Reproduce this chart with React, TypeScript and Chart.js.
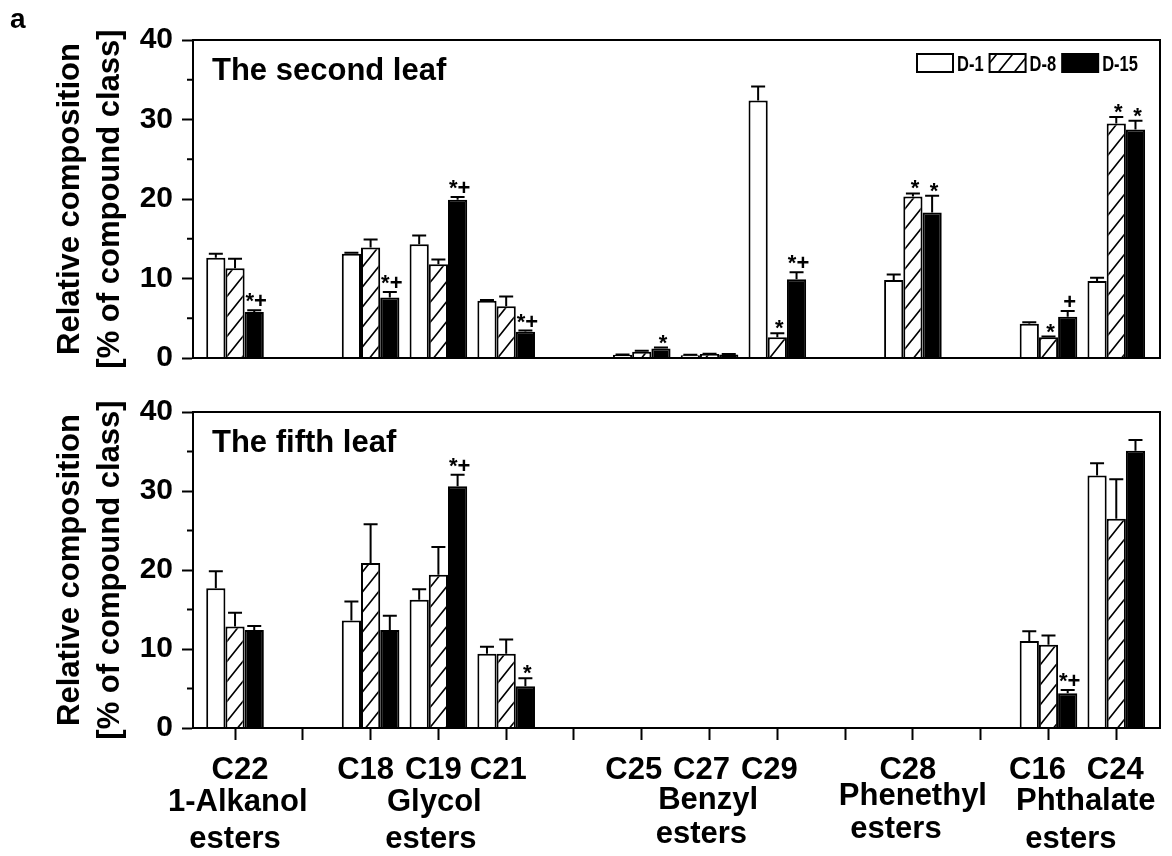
import React, { useEffect, useRef } from 'react';
import { Chart, registerables } from 'chart.js';

Chart.register(...registerables);

// ---------- data ----------
const categoryLabels = ['C22', '', 'C18', 'C19', 'C21', '', 'C25', 'C27', 'C29', '', 'C28', '', 'C16', 'C24'];
const seriesNames = ['D-1', 'D-8', 'D-15'];
const groupNames = ['1-Alkanol', 'Glycol', 'Benzyl', 'Phenethyl', 'Phthalate'];
const groupSuffix = 'esters';
const panelTitles = ['The second leaf', 'The fifth leaf'];
const panelLetter = 'a';
const yTitle = ['Relative composition', '[% of compound class]'];

// The second leaf
const secondD1 = [12.6, null, 13.1, 14.3, 7.2, null, 0.4, 0.35, 32.4, null, 9.8, null, 4.3, 9.7];
const secondD1Err = [0.5, null, 0.15, 1.1, 0.1, null, 0.05, 0.05, 1.75, null, 0.7, null, 0.2, 0.4];
const secondD8 = [11.3, null, 13.9, 11.8, 6.5, null, 0.8, 0.5, 2.6, null, 20.3, null, 2.6, 29.5];
const secondD8Err = [1.2, null, 1.0, 0.6, 1.25, null, 0.1, 0.05, 0.5, null, 0.4, null, 0.1, 0.8];
const secondD15 = [5.8, null, 7.6, 19.9, 3.3, null, 1.2, 0.45, 9.9, null, 18.3, null, 5.2, 28.75];
const secondD15Err = [0.2, null, 0.7, 0.35, 0.15, null, 0.12, 0.05, 0.9, null, 2.1, null, 0.7, 1.1];
const secondSig1 = ['', '', '', '', '', '', '', '', '', '', '', '', '', ''];
const secondSig8 = ['', '', '', '', '', '', '', '', '*', '', '*', '', '*', '*'];
const secondSig15 = ['*+', '', '*+', '*+', '*+', '', '*', '', '*+', '', '*', '', '+', '*'];

// The fifth leaf
const fifthD1 = [17.7, null, 13.6, 16.25, 9.4, null, null, null, null, null, null, null, 11.0, 31.95];
const fifthD1Err = [2.15, null, 2.4, 1.3, 0.9, null, null, null, null, null, null, null, 1.25, 1.55];
const fifthD8 = [12.85, null, 20.9, 19.4, 9.4, null, null, null, null, null, null, null, 10.55, 26.5];
const fifthD8Err = [1.75, null, 4.9, 3.5, 1.8, null, null, null, null, null, null, null, 1.15, 5.0];
const fifthD15 = [12.4, null, 12.4, 30.6, 5.3, null, null, null, null, null, null, null, 4.4, 35.1];
const fifthD15Err = [0.5, null, 1.8, 1.45, 1.0, null, null, null, null, null, null, null, 0.4, 1.35];
const fifthSig1 = ['', '', '', '', '', '', '', '', '', '', '', '', '', ''];
const fifthSig8 = ['', '', '', '', '', '', '', '', '', '', '', '', '', ''];
const fifthSig15 = ['', '', '', '*+', '*', '', '', '', '', '', '', '', '*+', ''];

// ---------- layout / style ----------
const FONT = "'Liberation Sans', Arial, Helvetica, sans-serif";
const W = 1172;
const TOP_H = 385;
const BOT_H = 471;
const X_MIN = -0.62;
const X_MAX = 13.645;
const GROUP_AT = [0.04, 2.94, 6.98, 10.0, 12.55];
const ESTERS_AT = [0.0, 2.89, 6.88, 9.75, 12.33];
const GROUP_BASE = [811, 811, 809, 805, 810];
const ESTERS_BASE = [848, 848, 843, 838, 848];
const C_LABEL_BASE = 779;
const C_LABEL_SHIFT = [5, 0, -5, -5, -8, 0, -8, -8, -8, 0, -5, 0, -11, -1];

function makeHatch(): CanvasPattern | string {
  const c = document.createElement('canvas');
  c.width = 16;
  c.height = 20;
  const g = c.getContext('2d');
  if (!g) return '#fff';
  g.fillStyle = '#fff';
  g.fillRect(0, 0, 16, 20);
  g.strokeStyle = '#000';
  g.lineWidth = 1.7;
  g.beginPath();
  for (const off of [-16, 0, 16]) {
    g.moveTo(off - 2, 22.5);
    g.lineTo(off + 18, -2.5);
  }
  g.stroke();
  return g.createPattern(c, 'repeat') || '#fff';
}

type Pt = { x: number; y: number; err: number | null; sig: string };

function toPoints(vals: (number | null)[], errs: (number | null)[], sigs: string[]): Pt[] {
  const out: Pt[] = [];
  vals.forEach((v, i) => {
    if (v == null) return;
    out.push({ x: i, y: v, err: errs[i], sig: sigs[i] });
  });
  return out;
}

function panelPlugin(kind: 'top' | 'bottom', fills: any[]) {
  const offsetY = kind === 'top' ? 0 : TOP_H;
  return {
    id: 'panelDecor' + kind,
    afterDatasetsDraw(chart: any) {
      const ctx: CanvasRenderingContext2D = chart.ctx;
      const ys = chart.scales.y;
      chart.data.datasets.forEach((ds: any, d: number) => {
        const meta = chart.getDatasetMeta(d);
        ds.data.forEach((raw: Pt, j: number) => {
          const el = meta.data[j];
          if (!el || raw.y == null) return;
          const xp = el.x;
          const topP = el.y;
          let markTop = topP;
          ctx.save();
          if (raw.err) {
            const ep = ys.getPixelForValue(raw.y + raw.err);
            ctx.strokeStyle = '#000';
            ctx.lineWidth = 2;
            ctx.beginPath();
            ctx.moveTo(xp, topP);
            ctx.lineTo(xp, ep);
            ctx.moveTo(xp - 7, ep);
            ctx.lineTo(xp + 7, ep);
            ctx.stroke();
            markTop = ep;
          }
          if (raw.sig) {
            ctx.font = `bold 22px ${FONT}`;
            ctx.fillStyle = '#000';
            ctx.textAlign = 'center';
            ctx.textBaseline = 'alphabetic';
            const m = ctx.measureText(raw.sig);
            const desc = m.actualBoundingBoxDescent || 0;
            ctx.fillText(raw.sig, xp + 2, markTop - 4 - desc);
          }
          ctx.restore();
        });
      });
    },
    afterDraw(chart: any) {
      const ctx: CanvasRenderingContext2D = chart.ctx;
      const { left, right, top, bottom } = chart.chartArea;
      const ys = chart.scales.y;
      const xs = chart.scales.x;
      ctx.save();
      // frame
      ctx.strokeStyle = '#000';
      ctx.lineWidth = 2;
      ctx.strokeRect(left, top, right - left, bottom - top);
      // minor y ticks
      ys.ticks.forEach((t: any) => {
        if (t.value % 10 !== 0) {
          const p = ys.getPixelForValue(t.value);
          ctx.beginPath();
          ctx.moveTo(left - 6, p);
          ctx.lineTo(left, p);
          ctx.stroke();
        }
      });
      // panel title
      ctx.fillStyle = '#000';
      ctx.textAlign = 'left';
      ctx.textBaseline = 'alphabetic';
      ctx.font = `bold 31px ${FONT}`;
      if (kind === 'top') {
        ctx.fillText(panelTitles[0], 212, 80);
        ctx.font = `bold 28px ${FONT}`;
        ctx.fillText(panelLetter, 10, 28);
        // legend (condensed bold text)
        let lx = 917;
        const sx = 0.75;
        ctx.font = `bold 22px ${FONT}`;
        seriesNames.forEach((name, i) => {
          ctx.fillStyle = fills[i];
          ctx.fillRect(lx, 54, 36, 18);
          ctx.lineWidth = 2;
          ctx.strokeStyle = '#000';
          ctx.strokeRect(lx, 54, 36, 18);
          ctx.fillStyle = '#000';
          ctx.save();
          ctx.translate(lx + 40, 71);
          ctx.scale(sx, 1);
          ctx.fillText(name, 0, 0);
          ctx.restore();
          lx += 40 + ctx.measureText(name).width * sx + 6;
        });
      } else {
        ctx.fillText(panelTitles[1], 212, 452 - offsetY);
        // x labels
        ctx.font = `bold 31px ${FONT}`;
        ctx.textAlign = 'center';
        categoryLabels.forEach((lab, i) => {
          if (!lab) return;
          ctx.fillText(lab, xs.getPixelForValue(i) + C_LABEL_SHIFT[i], C_LABEL_BASE - offsetY);
        });
        groupNames.forEach((g, i) => {
          ctx.fillText(g, xs.getPixelForValue(GROUP_AT[i]), GROUP_BASE[i] - offsetY);
          ctx.fillText(groupSuffix, xs.getPixelForValue(ESTERS_AT[i]), ESTERS_BASE[i] - offsetY);
        });
      }
      ctx.restore();
    },
  };
}

function buildConfig(kind: 'top' | 'bottom', hatch: any, series: { v: any[]; e: any[]; s: string[] }[]) {
  const isBottom = kind === 'bottom';
  const fills = ['#ffffff', hatch, '#000000'];
  const canvasH = isBottom ? BOT_H : TOP_H;
  const padTop = isBottom ? 22 : 40;
  const xHeight = isBottom ? canvasH - 343 : canvasH - 360;
  return {
    type: 'bar' as const,
    data: {
      datasets: series.map((sr, i) => ({
        label: seriesNames[i],
        data: toPoints(sr.v, sr.e, sr.s),
        backgroundColor: fills[i],
        borderColor: '#000',
        borderWidth: 2,
        borderSkipped: 'start',
        categoryPercentage: 0.85,
        barPercentage: 1.0,
      })),
    },
    options: {
      responsive: false,
      animation: false,
      events: [],
      layout: { padding: { top: padTop, right: W - 1160, left: 0, bottom: 0 } },
      plugins: { legend: { display: false }, tooltip: { enabled: false }, title: { display: false } },
      scales: {
        x: {
          type: 'linear',
          min: X_MIN,
          max: X_MAX,
          offset: false,
          ticks: { display: false, stepSize: 1, includeBounds: false, autoSkip: false },
          grid: {
            display: isBottom,
            offset: false,
            drawOnChartArea: false,
            drawTicks: isBottom,
            tickLength: 12,
            tickWidth: 2,
            tickColor: '#000',
          },
          border: { display: true, color: '#000', width: 2 },
          afterFit: (s: any) => {
            s.height = xHeight;
          },
        },
        y: {
          min: 0,
          max: 40,
          ticks: {
            stepSize: 5,
            autoSkip: false,
            padding: 9,
            color: '#000',
            font: { family: FONT, size: 30, weight: 'bold' },
            callback: (v: any) => (Number(v) % 10 === 0 ? String(v) : ''),
          },
          grid: {
            display: true,
            drawOnChartArea: false,
            drawTicks: true,
            tickLength: 11,
            tickWidth: 2,
            tickColor: (c: any) => (c.tick && c.tick.value % 10 === 0 ? '#000' : 'rgba(0,0,0,0)'),
          },
          border: { display: true, color: '#000', width: 2 },
          title: {
            display: true,
            text: yTitle,
            color: '#000',
            font: { family: FONT, size: 31, weight: 'bold', lineHeight: 1.29 },
            padding: { top: 50, bottom: 0 },
          },
          afterFit: (s: any) => {
            s.width = 193;
          },
        },
      },
    },
    plugins: [panelPlugin(kind, fills)],
  };
}

export default function App() {
  const topRef = useRef<HTMLCanvasElement>(null);
  const botRef = useRef<HTMLCanvasElement>(null);

  useEffect(() => {
    const hatch = makeHatch();
    const c1 = new Chart(
      topRef.current as HTMLCanvasElement,
      buildConfig('top', hatch, [
        { v: secondD1, e: secondD1Err, s: secondSig1 },
        { v: secondD8, e: secondD8Err, s: secondSig8 },
        { v: secondD15, e: secondD15Err, s: secondSig15 },
      ]) as any
    );
    const c2 = new Chart(
      botRef.current as HTMLCanvasElement,
      buildConfig('bottom', hatch, [
        { v: fifthD1, e: fifthD1Err, s: fifthSig1 },
        { v: fifthD8, e: fifthD8Err, s: fifthSig8 },
        { v: fifthD15, e: fifthD15Err, s: fifthSig15 },
      ]) as any
    );
    return () => {
      c1.destroy();
      c2.destroy();
    };
  }, []);

  return (
    <div style={{ position: 'absolute', left: 0, top: 0, width: W, height: TOP_H + BOT_H, background: '#fff' }}>
      <canvas ref={topRef} width={W} height={TOP_H} style={{ position: 'absolute', left: 0, top: 0 }} />
      <canvas ref={botRef} width={W} height={BOT_H} style={{ position: 'absolute', left: 0, top: TOP_H }} />
    </div>
  );
}
